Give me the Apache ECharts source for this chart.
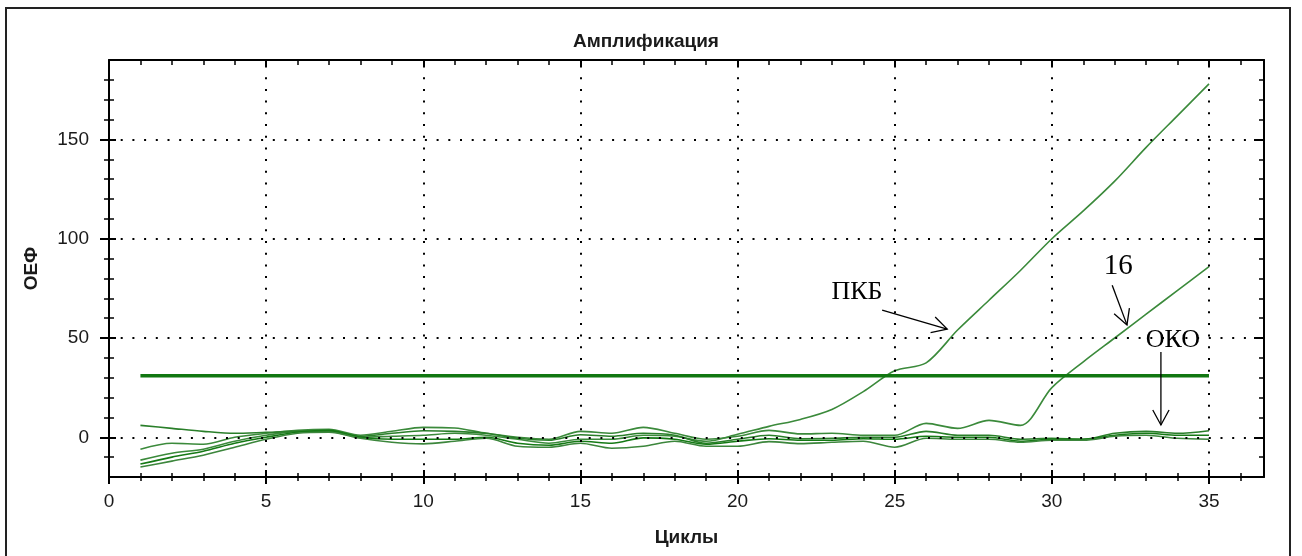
<!DOCTYPE html>
<html>
<head>
<meta charset="utf-8">
<script src="https://cdn.jsdelivr.net/npm/echarts@6/dist/echarts.min.js"></script>
<style>
  html, body { margin: 0; padding: 0; background: #fff; }
  #chart { width: 1302px; height: 556px; }
</style>
</head>
<body>
<div id="chart"></div>
<script>
// ---- data ----
const CYCLES = [1, 2, 3, 4, 5, 6, 7, 8, 9, 10, 11, 12, 13, 14, 15, 16, 17, 18, 19, 20,
                21, 22, 23, 24, 25, 26, 27, 28, 29, 30, 31, 32, 33, 34, 35];

const PKB   = [-11.5, -8, -6, -2, 1, 3, 3, 0, 0.5, 1, 2, 1, -1, -3, -1, -1, 1, 0.5, -2, 1.5,
               5.5, 9, 14, 23, 33.5, 37.5, 54, 69, 84, 100, 114, 129, 146, 162, 178];
const S16   = [-6, -3, -3.5, 0, 2, 3.5, 4, 1, 3, 5, 4.7, 2, 0, -1, 3, 2, 5, 2, -1, 0.5,
               3.5, 1.7, 2, 1, 1, 7, 4.5, 8.5, 6, 25, 38, 50, 62, 74, 86];
const OKO_1 = [6, 4.5, 3, 2, 2.5, 3, 3, 0.5, 2, 3.3, 3, 2, -0.5, -1.5, 1.3, 0.5, 2, 1, -3, -1,
               1, -0.7, -0.5, 0, 0, 3, 1, 1, -1, -0.5, -1, 2, 3, 2, 3.3];
const OKO_2 = [-13.5, -10, -7, -3, 0, 2.5, 3.5, 0, -1, -1, -1, 0, -3, -4, -2, -3, -0.3, -1, -3.5, -2,
               -0.7, -1.5, -1.5, -0.7, -1, 0.5, 0, 0, -2, -1, -1, 1, 2, 1, 1];
const OKO_3 = [-15, -12, -9, -5, -1, 2, 2.5, -0.5, -2.5, -3.3, -2, -0.5, -4.5, -5, -3, -5.5, -4.5, -2, -4.5, -4.5,
               -2.2, -3.2, -2.5, -2, -5, -0.5, -1, -1, -2.5, -1.5, -1.5, 0.5, 1, -0.5, -1];

const THRESHOLD = 31;
const THRESHOLD_CYCLES = [1, 35];

const X_TICKS = [0, 5, 10, 15, 20, 25, 30, 35];
const X_MINOR = [1, 2, 3, 4, 6, 7, 8, 9, 11, 12, 13, 14, 16, 17, 18, 19, 21, 22, 23, 24,
                 26, 27, 28, 29, 31, 32, 33, 34, 36];
const Y_TICKS = [0, 50, 100, 150];
const Y_MINOR = [-10, 10, 20, 30, 40, 60, 70, 80, 90, 110, 120, 130, 140, 160, 170, 180];

// ---- layout & style ----
const X_RANGE = [0, 36.75];
const Y_RANGE = [-20, 190];
const FONT = 'Liberation Sans, Arial, sans-serif';
const SERIF = 'Liberation Serif, Times New Roman, serif';
const INK = '#1a1a1a';

const CURVES = [
  { name: 'ПКБ',  data: PKB,   color: '#3b8a3b' },
  { name: '16',   data: S16,   color: '#3b8a3b' },
  { name: 'ОКО1', data: OKO_1, color: '#2a7f2a' },
  { name: 'ОКО2', data: OKO_2, color: '#157a15' },
  { name: 'ОКО3', data: OKO_3, color: '#3c863c' }
];

// annotation placement in (cycle, value) units
const NOTES = [
  { text: 'ПКБ', size: 26, at: [23.8, 73.0], from: [24.6, 64.1],  to: [26.67, 54.5] },
  { text: '16',  size: 29, at: [32.11, 86.2], from: [31.92, 76.6], to: [32.39, 56.6] },
  { text: 'ОКО', size: 26, at: [33.85, 49.0], from: [33.47, 43.0], to: [33.47, 6.2] }
];

function tickStyle(width) { return { color: '#000', width: width }; }

function xAxis(position, extra) {
  return Object.assign({
    type: 'value', min: X_RANGE[0], max: X_RANGE[1], position: position,
    axisLine: { show: false, onZero: false },
    axisTick: { show: false },
    axisLabel: { show: false },
    splitLine: { show: false }
  }, extra);
}
function yAxis(position, extra) {
  return Object.assign({
    type: 'value', min: Y_RANGE[0], max: Y_RANGE[1], position: position,
    axisLine: { show: false, onZero: false },
    axisTick: { show: false },
    axisLabel: { show: false },
    splitLine: { show: false }
  }, extra);
}
function ticks(values, length, inside, width) {
  return { show: true, customValues: values, length: length, inside: inside, lineStyle: tickStyle(width) };
}

const frameLine = { show: true, onZero: false, lineStyle: { color: '#000', width: 2 } };

const xAxes = [
  xAxis('bottom', {
    axisLine: frameLine,
    axisTick: ticks(X_TICKS, 7, false, 2),
    axisLabel: { show: true, customValues: X_TICKS, margin: 15, fontSize: 19, fontFamily: FONT, color: INK },
    name: 'Циклы', nameLocation: 'middle', nameGap: 51,
    nameTextStyle: { fontSize: 19, fontWeight: 'bold', fontFamily: FONT, color: INK }
  }),
  xAxis('bottom', { axisTick: ticks(X_TICKS, 7, true, 2) }),
  xAxis('bottom', { axisTick: ticks(X_MINOR, 4, false, 1.5) }),
  xAxis('bottom', { axisTick: ticks(X_MINOR, 4, true, 1.5) }),
  xAxis('top',    { axisLine: frameLine, axisTick: ticks(X_TICKS, 7, true, 2) }),
  xAxis('top',    { axisTick: ticks(X_MINOR, 5, true, 1.5) })
];

const yAxes = [
  yAxis('left', {
    axisLine: frameLine,
    axisTick: ticks(Y_TICKS, 9, false, 2),
    axisLabel: { show: true, customValues: Y_TICKS, margin: 20, fontSize: 19, fontFamily: FONT, color: INK },
    name: 'ОЕФ', nameLocation: 'middle', nameGap: 68, nameRotate: 90,
    nameTextStyle: { fontSize: 19, fontWeight: 'bold', fontFamily: FONT, color: INK }
  }),
  yAxis('left',  { axisTick: ticks(Y_TICKS, 7, true, 2) }),
  yAxis('left',  { axisTick: ticks(Y_MINOR, 5, false, 1.5) }),
  yAxis('left',  { axisTick: ticks(Y_MINOR, 5, true, 1.5) }),
  yAxis('right', { axisLine: frameLine, axisTick: ticks(Y_TICKS, 10, true, 2) }),
  yAxis('right', { axisTick: ticks(Y_MINOR, 5, true, 1.5) })
];

// dotted grid at the major ticks
const gridMarks = X_TICKS.filter(v => v > X_RANGE[0]).map(v => ({ xAxis: v }))
  .concat(Y_TICKS.map(v => ({ yAxis: v })));

const curveSeries = CURVES.map(c => ({
  name: c.name,
  type: 'line',
  xAxisIndex: 0, yAxisIndex: 0,
  data: CYCLES.map((x, i) => [x, c.data[i]]),
  showSymbol: false,
  smooth: 0.3,
  lineStyle: { color: c.color, width: 1.6 },
  z: 3
}));

const thresholdSeries = {
  name: 'Порог',
  type: 'line',
  xAxisIndex: 0, yAxisIndex: 0,
  data: THRESHOLD_CYCLES.map(x => [x, THRESHOLD]),
  showSymbol: false,
  lineStyle: { color: '#117711', width: 3.5 },
  z: 4,
  markLine: {
    silent: true,
    symbol: ['none', 'none'],
    label: { show: false },
    animation: false,
    lineStyle: { color: '#000', width: 2, type: [2, 9.7] },
    emphasis: { disabled: true },
    data: gridMarks
  }
};

const chart = echarts.init(document.getElementById('chart'), null, { renderer: 'canvas' });

chart.setOption({
  animation: false,
  backgroundColor: '#ffffff',
  title: {
    text: 'Амплификация',
    left: 641, top: 27, textAlign: 'center',
    textStyle: { fontSize: 19, fontWeight: 'bold', fontFamily: FONT, color: INK }
  },
  grid: { left: 109, right: 38, top: 60, bottom: 79, containLabel: false },
  xAxis: xAxes,
  yAxis: yAxes,
  series: [thresholdSeries].concat(curveSeries)
});

// annotations: labels with open-headed arrows, anchored in data units
function toPx(p) { return chart.convertToPixel({ xAxisIndex: 0, yAxisIndex: 0 }, p); }

function arrow(fromPt, toPt) {
  const a = toPx(fromPt), b = toPx(toPt);
  const dx = b[0] - a[0], dy = b[1] - a[1];
  const len = Math.hypot(dx, dy);
  const ux = dx / len, uy = dy / len;
  const L = 17, ang = 0.5;
  const wing = s => {
    const c = Math.cos(s * ang), sn = Math.sin(s * ang);
    const rx = ux * c - uy * sn, ry = ux * sn + uy * c;
    return [b[0] - L * rx, b[1] - L * ry];
  };
  const stroke = { stroke: '#000', lineWidth: 1.3, fill: null };
  return [
    { type: 'line', shape: { x1: a[0], y1: a[1], x2: b[0], y2: b[1] }, style: stroke, z: 10 },
    { type: 'polyline', shape: { points: [wing(1), b, wing(-1)] }, style: stroke, z: 10 }
  ];
}

const graphics = [
  {
    type: 'rect',
    shape: { x: 6, y: 8, width: 1284, height: 560 },
    style: { fill: null, stroke: '#222', lineWidth: 2 },
    silent: true, z: 20
  }
];
NOTES.forEach(n => {
  const p = toPx(n.at);
  graphics.push({
    type: 'text', x: p[0], y: p[1], z: 10,
    style: { text: n.text, font: n.size + 'px ' + SERIF, fill: '#000', align: 'center', verticalAlign: 'middle' }
  });
  arrow(n.from, n.to).forEach(g => graphics.push(g));
});

chart.setOption({ graphic: graphics });
</script>
</body>
</html>
